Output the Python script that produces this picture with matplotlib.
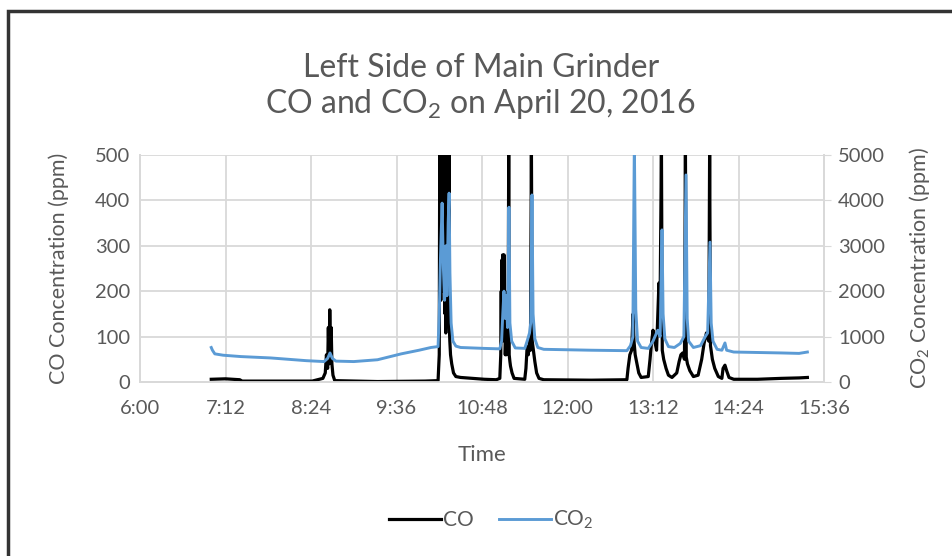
import matplotlib
matplotlib.use('Agg')
import matplotlib.pyplot as plt
from matplotlib.patches import Rectangle
from matplotlib.ticker import FuncFormatter, MultipleLocator

plt.rcParams['font.family'] = ['Lato', 'DejaVu Sans']
plt.rcParams['mathtext.fontset'] = 'custom'
plt.rcParams['mathtext.rm'] = 'Lato'
plt.rcParams['mathtext.default'] = 'rm'

TEXT = '#595959'
GRID = '#D9D9D9'

# time in minutes after midnight, concentrations in ppm
co_time = [420, 432, 444, 446, 505, 514, 516, 517, 518, 518.6, 519.2, 519.8, 520.4, 521, 521.6, 522.5, 524,
           560, 600, 611, 612, 612.4, 612.7, 613.0, 613.3, 613.6, 613.9, 614.2, 614.5, 614.8, 615.1, 615.4,
           615.7, 616.0, 616.3, 616.6, 616.9, 617.2, 617.5, 617.8, 618.1, 618.4, 618.7, 619.0, 619.3, 619.6,
           619.9, 620.2, 620.5, 620.9, 621.5, 622.5, 624, 626, 630, 640, 650, 660,
           663, 663.8, 664.2, 664.5, 664.8, 665.1, 665.4, 665.7, 666, 666.3, 666.6, 666.9, 667.2, 667.6,
           668, 668.5, 669, 669.5, 670, 670.5, 670.9, 671.5, 672, 673.3, 675,
           684, 685, 686, 687, 688, 688.8, 689.6, 690.3, 691.3, 692.5, 694, 696, 700, 740,
           770, 771, 772.5, 774, 775.2, 776, 777, 778.5, 780, 782, 788, 789.5, 790.5, 792, 793.5, 795, 797,
           797.8, 799.1, 799.8, 801, 803, 805, 808, 812, 814, 815.5, 817, 818.5, 819.3, 820, 821, 823, 826,
           830, 833, 835, 837, 839, 839.7, 840.4, 842, 844, 847, 850, 851, 852.6, 854, 856, 860, 880, 900,
           915, 922]
co_ppm = [6, 7, 5, 2, 2, 8, 20, 60, 30, 120, 40, 159, 70, 120, 40, 15, 3,
          1, 2, 3, 60, 520, 250, 520, 180, 520, 300, 520, 220, 520, 350, 520,
          200, 520, 300, 520, 150, 520, 108, 520, 250, 520, 300, 520, 200, 520,
          300, 520, 120, 90, 60, 40, 20, 12, 10, 8, 6, 5,
          8, 60, 200, 90, 269, 120, 280, 100, 250, 150, 280, 90, 200, 60,
          100, 60, 120, 70, 90, 520, 60, 45, 35, 20, 8,
          6, 30, 77, 60, 92, 70, 520, 90, 70, 45, 20, 8, 5, 4,
          5, 30, 60, 70, 150, 90, 60, 40, 20, 10, 12, 50, 80, 114, 90, 70, 218,
          120, 520, 70, 50, 30, 15, 10, 20, 45, 60, 64, 50, 520, 55, 40, 25, 12,
          15, 50, 85, 108, 90, 520, 80, 50, 30, 12, 8, 30, 37, 25, 10, 6, 6, 8,
          9, 10]

co2_time = [420, 421, 423, 430, 445, 470, 500, 515, 518, 520, 522, 525, 540, 560, 580, 595, 605, 611,
            612, 613, 614.4, 615.5, 616.5, 617.5, 618.5, 619.5, 620.3, 621, 622, 623.5, 626, 630, 650,
            663, 664.5, 665.5, 666.5, 667.5, 668.5, 669.5, 670.7, 671.5, 673, 676, 684, 686, 688, 689,
            690.1, 691, 692.5, 695, 700, 740, 770, 773, 775, 776.3, 777.5, 779, 782, 788, 792, 796, 798,
            799.6, 800.5, 802, 805, 810, 815, 818, 819.8, 820.8, 822, 826, 832, 836, 838, 840, 841, 842.5,
            846, 850, 852.6, 854, 860, 880, 900, 915, 922]
co2_ppm = [760, 700, 620, 590, 560, 530, 470, 450, 520, 640, 520, 460, 450, 490, 620, 700, 760, 780,
           1500, 2700, 3940, 2500, 1800, 3000, 1900, 3500, 4160, 2400, 1300, 900, 790, 760, 740,
           730, 900, 1500, 2000, 1400, 1900, 1200, 3850, 1300, 900, 750, 740, 900, 1080, 1300,
           4120, 1500, 950, 760, 720, 700, 690, 800, 990, 5300, 1600, 900, 760, 740, 900, 1140, 1000,
           3350, 1500, 950, 780, 760, 850, 1000, 4560, 1400, 900, 760, 800, 1000, 1080, 3080, 1300, 900,
           720, 700, 860, 700, 660, 650, 640, 630, 660]

fig = plt.figure(figsize=(9.52, 5.56), dpi=100)
ax = fig.add_axes([140 / 952, 1 - 382 / 556, 684 / 952, 227 / 556])
ax2 = ax.twinx()

ax.plot([t / 60 for t in co_time], co_ppm, color='black', lw=2.3, label='CO', zorder=3)
ax2.plot([t / 60 for t in co2_time], co2_ppm, color='#5B9BD5', lw=2.1, label='CO$_2$', zorder=3)

ax.set_xlim(6, 15.6)
ax.set_ylim(0, 500)
ax2.set_ylim(0, 5000)
ax.xaxis.set_major_locator(MultipleLocator(1.2))
ax.xaxis.set_major_formatter(FuncFormatter(
    lambda v, p: '%d:%02d' % (int(round(v * 60)) // 60, int(round(v * 60)) % 60)))
ax.yaxis.set_major_locator(MultipleLocator(100))
ax2.yaxis.set_major_locator(MultipleLocator(1000))

ax.grid(True, color=GRID, lw=1.3)
ax.set_axisbelow(True)
for a in (ax, ax2):
    for s in a.spines.values():
        s.set_color(GRID)
        s.set_linewidth(1.3)
    a.spines['top'].set_visible(False)
    a.tick_params(labelsize=14.5, colors=TEXT)
ax.tick_params(axis='y', length=0, pad=7)
ax.tick_params(axis='x', length=0, pad=13)
ax2.tick_params(axis='y', length=5, color=GRID, pad=5)

ax.set_xlabel('Time', fontsize=16, color=TEXT, labelpad=20)
ax.set_ylabel('CO Concentration (ppm)', fontsize=15.5, color=TEXT, labelpad=19)
ax2.set_ylabel('CO$_2$ Concentration (ppm)', fontsize=15.5, color=TEXT, labelpad=16)

fig.text(0.505, 1 - 68 / 556, 'Left Side of Main Grinder', ha='center', va='center',
         fontsize=23, color=TEXT)
fig.text(0.505, 1 - 104 / 556, 'CO and CO$_2$ on April 20, 2016', ha='center', va='center',
         fontsize=23, color=TEXT)

h1, l1 = ax.get_legend_handles_labels()
h2, l2 = ax2.get_legend_handles_labels()
fig.legend(h1 + h2, l1 + l2, loc='center', bbox_to_anchor=(0.516, 1 - 520 / 556), ncol=2,
           frameon=False, fontsize=15, labelcolor=TEXT, handlelength=2.5, handletextpad=0.1,
           columnspacing=1.2)

fig.patches.append(Rectangle((8 / 952, -0.1), 1.2, 1.1 - 11 / 556, transform=fig.transFigure,
                             fill=False, edgecolor='#333333', lw=2.5, clip_on=False))

fig.savefig('out.png', dpi=100)
